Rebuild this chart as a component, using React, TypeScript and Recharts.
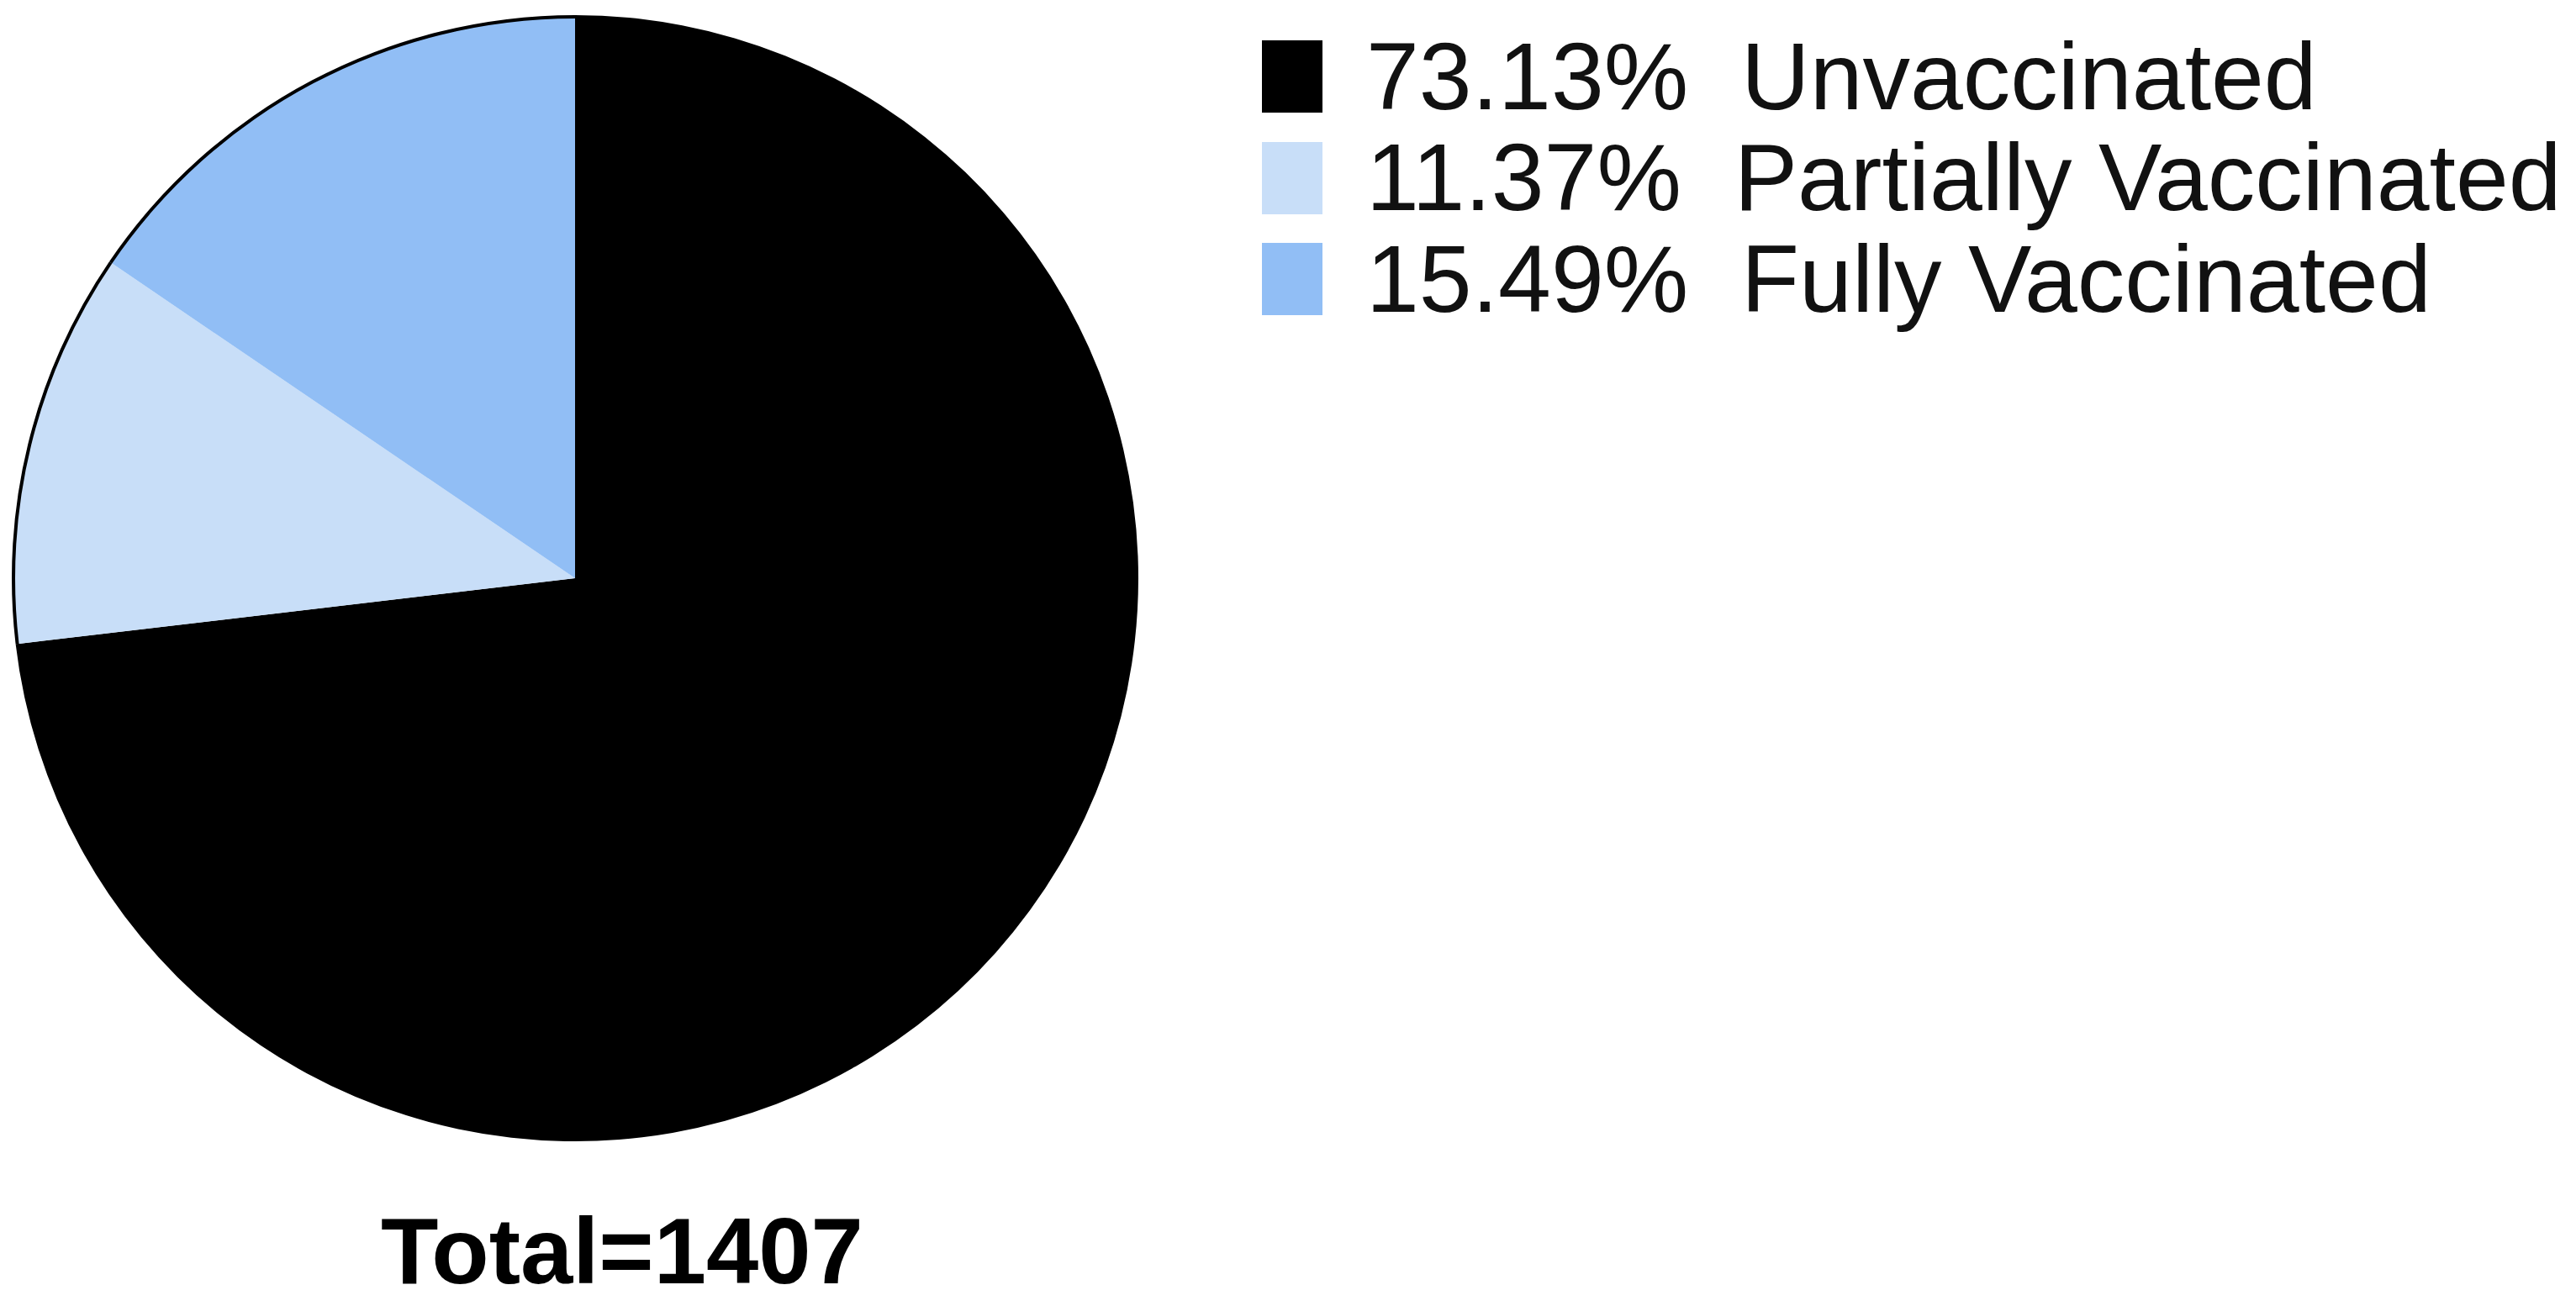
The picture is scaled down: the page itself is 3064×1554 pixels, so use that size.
import { PieChart, Pie, Cell, Legend } from "recharts"

const groups = ["Unvaccinated", "Partially Vaccinated", "Fully Vaccinated"]
const counts = [1029, 160, 218]
const colors = ["#000000", "#c8def8", "#91bef5"]
const totalLabel = "Total=1407"

const total = counts.reduce((s, v) => s + v, 0)
const chartData = groups.map((name, i) => ({ name, value: counts[i] }))

const FONT = '"Liberation Sans", Arial, Helvetica, sans-serif'

function VaccLegend() {
  return (
    <div style={{ fontFamily: FONT, color: "#111" }}>
      {groups.map((name, i) => (
        <div key={name} style={{ display: "flex", alignItems: "center", height: 120.5 }}>
          <div style={{ width: 72, height: 86, background: colors[i], marginRight: 52 }} />
          <span style={{ fontSize: 113, lineHeight: "121px", whiteSpace: "pre" }}>
            {`${((counts[i] / total) * 100).toFixed(2)}%  ${name}`}
          </span>
        </div>
      ))}
    </div>
  )
}

export default function App() {
  return (
    <div style={{ position: "relative", width: 3040, height: 1530, background: "#fff" }}>
      <PieChart width={3040} height={1530} margin={{ top: 0, right: 0, bottom: 0, left: 0 }}>
        <Pie
          data={chartData}
          dataKey="value"
          nameKey="name"
          cx={676}
          cy={680}
          outerRadius={668}
          startAngle={90}
          endAngle={-270}
          stroke="none"
          isAnimationActive={false}
        >
          {chartData.map((d, i) => (
            <Cell key={d.name} fill={colors[i]} />
          ))}
        </Pie>
        {/* thin outline around the whole pie */}
        <Pie
          data={chartData}
          dataKey="value"
          cx={676}
          cy={680}
          innerRadius={666}
          outerRadius={670}
          startAngle={90}
          endAngle={-270}
          fill="#000"
          stroke="none"
          legendType="none"
          isAnimationActive={false}
        />
        <Legend
          layout="vertical"
          align="right"
          verticalAlign="top"
          content={() => <VaccLegend />}
          wrapperStyle={{ left: 1493, top: 23 }}
        />
      </PieChart>
      <div
        style={{
          position: "absolute",
          left: 432,
          top: 1425,
          width: 600,
          textAlign: "center",
          fontFamily: FONT,
          fontWeight: "bold",
          fontSize: 112,
          lineHeight: "112px",
          color: "#000",
        }}
      >
        {totalLabel}
      </div>
    </div>
  )
}
